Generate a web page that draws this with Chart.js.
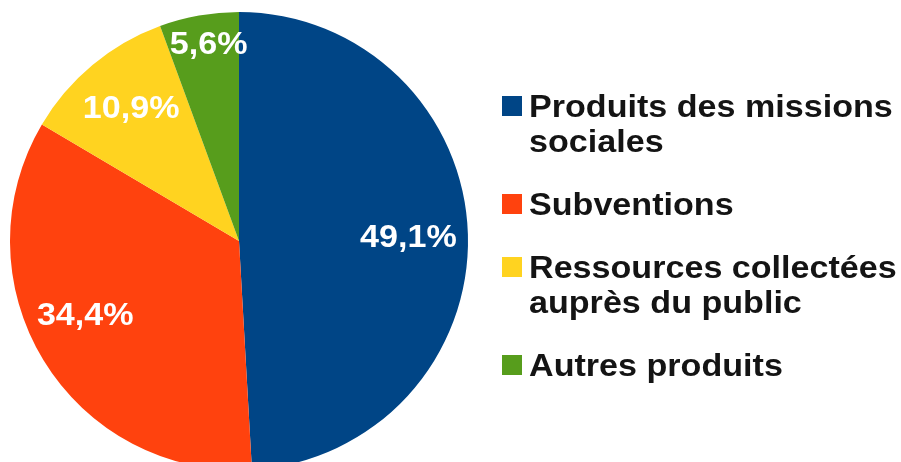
<!DOCTYPE html>
<html>
<head>
<meta charset="utf-8">
<script src="https://cdn.jsdelivr.net/npm/chart.js@4/dist/chart.umd.min.js"></script>
<style>
  html, body { margin: 0; padding: 0; background: #ffffff; overflow: hidden; }
  #wrap { width: 901px; height: 462px; overflow: hidden; }
  canvas { display: block; }
</style>
</head>
<body>
<div id="wrap"><canvas id="c" width="901" height="480"></canvas></div>
<script>
// ---- data ----
const categories = [
  ["Produits des missions", "sociales"],
  ["Subventions"],
  ["Ressources collectées", "auprès du public"],
  ["Autres produits"]
];
const shares = [49.1, 34.4, 10.9, 5.6];
const shareLabels = ["49,1%", "34,4%", "10,9%", "5,6%"];
const sliceColors = ["#004586", "#ff420e", "#ffd320", "#579d1c"];

// ---- style ----
const FONT_FAMILY = '"Liberation Sans", Arial, sans-serif';
const X_STRETCH = 1.1;

function drawStretched(ctx, text, x, y, align) {
  ctx.save();
  ctx.translate(x, y);
  ctx.scale(X_STRETCH, 1);
  ctx.textAlign = align;
  ctx.fillText(text, 0, 0);
  ctx.restore();
}

const sliceLabelPlugin = {
  id: 'sliceLabels',
  afterDatasetsDraw(chart, args, opts) {
    const ctx = chart.ctx;
    const meta = chart.getDatasetMeta(0);
    ctx.save();
    ctx.fillStyle = opts.color;
    ctx.font = 'bold ' + opts.size + 'px ' + FONT_FAMILY;
    ctx.textBaseline = 'alphabetic';
    meta.data.forEach((arc, i) => {
      const p = arc.getProps(['x', 'y', 'startAngle', 'endAngle', 'outerRadius'], true);
      const mid = (p.startAngle + p.endAngle) / 2;
      const r = p.outerRadius * opts.radial[i];
      const off = opts.offsets[i];
      const cx = p.x + Math.cos(mid) * r + off[0];
      const cy = p.y + Math.sin(mid) * r + off[1];
      drawStretched(ctx, chart.data.datasets[0].labelsText[i], cx, cy + opts.capHalf, 'center');
    });
    ctx.restore();
  }
};

const sideLegendPlugin = {
  id: 'sideLegend',
  afterDraw(chart, args, opts) {
    const ctx = chart.ctx;
    const labels = chart.data.labels;
    const colors = chart.data.datasets[0].backgroundColor;
    ctx.save();
    ctx.font = 'bold ' + opts.size + 'px ' + FONT_FAMILY;
    ctx.textBaseline = 'alphabetic';
    let base = opts.top;
    labels.forEach((lines, i) => {
      ctx.fillStyle = colors[i];
      ctx.fillRect(opts.left, base - opts.boxRise, opts.box, opts.box);
      ctx.fillStyle = opts.color;
      lines.forEach((line, j) => {
        drawStretched(ctx, line, opts.left + opts.box + opts.textGap, base + j * opts.lineHeight, 'left');
      });
      base += (lines.length - 1) * opts.lineHeight + opts.itemGap;
    });
    ctx.restore();
  }
};

new Chart(document.getElementById('c'), {
  type: 'pie',
  data: {
    labels: categories,
    datasets: [{
      data: shares,
      labelsText: shareLabels,
      backgroundColor: sliceColors,
      borderWidth: 0,
      hoverOffset: 0,
      offset: 0
    }]
  },
  options: {
    responsive: false,
    animation: false,
    events: [],
    layout: { padding: { left: 10, top: 12, right: 433, bottom: 10 } },
    plugins: {
      legend: { display: false },
      tooltip: { enabled: false },
      title: { display: false },
      sliceLabels: {
        color: '#ffffff',
        size: 31,
        capHalf: 11,
        radial: [0.74, 0.74, 0.75, 0.88],
        offsets: [[0, 0], [-9, -15], [2, -2], [5, 0]]
      },
      sideLegend: {
        color: '#141414',
        size: 31,
        left: 502,
        top: 117,
        box: 20,
        boxRise: 21,
        textGap: 7,
        lineHeight: 35,
        itemGap: 63
      }
    }
  },
  plugins: [sliceLabelPlugin, sideLegendPlugin]
});
</script>
</body>
</html>
